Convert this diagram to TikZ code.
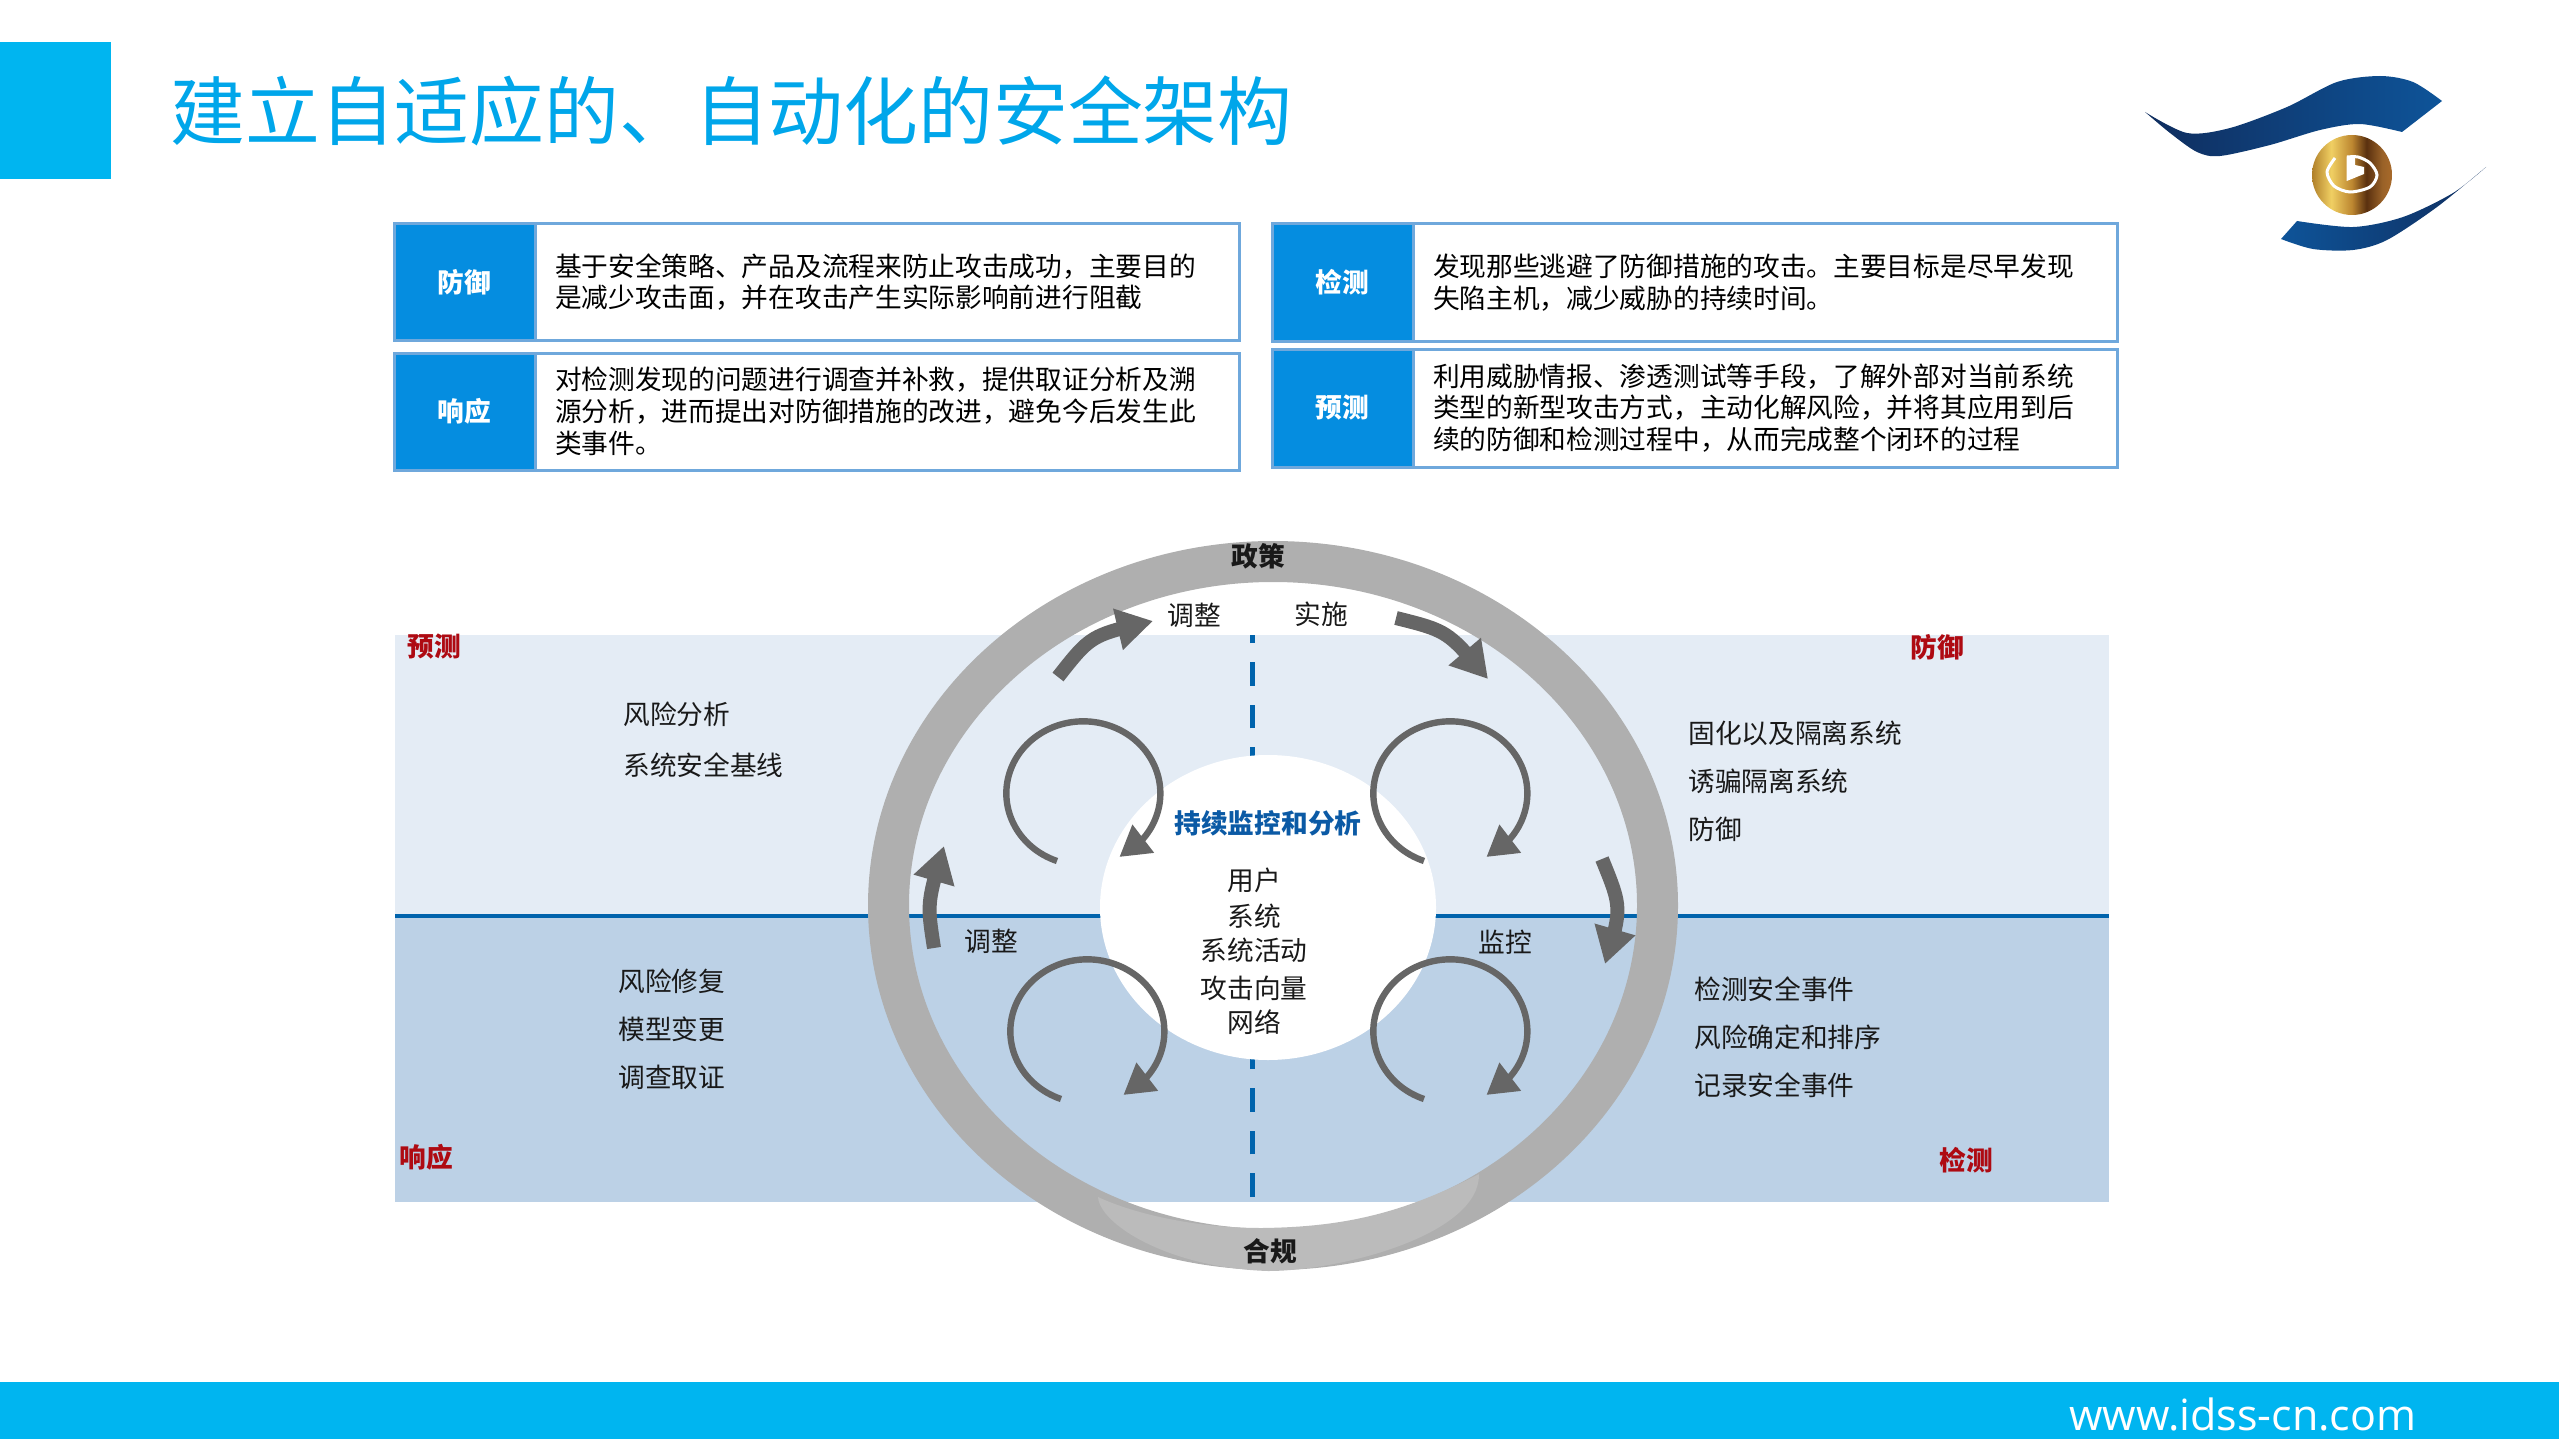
\documentclass[tikz,border=0pt]{standalone}
\usepackage{fontspec}
\setmainfont{Noto Sans CJK SC}
\newfontfamily\webfont{Open Sans}
\usetikzlibrary{shapes.geometric, arrows.meta, bending, positioning}

\definecolor{titleblue}{HTML}{00A6EA}
\definecolor{barblue}{HTML}{00B5F0}
\definecolor{tagblue}{HTML}{058DE0}
\definecolor{edgeblue}{HTML}{6FA8DC}
\definecolor{uppertint}{HTML}{E4ECF5}
\definecolor{lowertint}{HTML}{BCD1E6}
\definecolor{axisblue}{HTML}{0063AC}
\definecolor{ringgray}{HTML}{AFAFAF}
\definecolor{capgray}{HTML}{BBBBBB}
\definecolor{arrowgray}{HTML}{666666}
\definecolor{quadred}{HTML}{AE0A12}
\definecolor{monitorblue}{HTML}{0B5AA5}
\definecolor{logodark}{HTML}{0F2D5E}
\definecolor{logoblue}{HTML}{0E5499}
\definecolor{goldA}{HTML}{B0802A}
\definecolor{goldB}{HTML}{F0CF63}
\definecolor{goldC}{HTML}{BC8630}
\definecolor{goldD}{HTML}{5A300F}
\definecolor{goldE}{HTML}{9A6228}
\definecolor{goldF}{HTML}{A86A2A}
\pgfdeclarehorizontalshading{goldshade}{100bp}{
  color(0bp)=(goldA); color(25bp)=(goldA); color(37bp)=(goldB); color(50bp)=(goldC);
  color(59bp)=(goldD); color(69bp)=(goldE); color(75bp)=(goldF); color(100bp)=(goldF)}

\begin{document}
\begin{tikzpicture}[
        x=0.5pt, y=-0.5pt,
        tagbox/.style={rectangle, fill=tagblue, draw=edgeblue, line width=1.5pt, minimum width=70.5pt, inner sep=0pt, outer sep=0pt, text=white, font=\fontsize{13.35}{16}\selectfont\bfseries},
        textbox/.style={rectangle, fill=white, draw=edgeblue, line width=1.5pt, inner xsep=10pt, inner ysep=0pt, outer sep=0pt, align=left, text=black, font=\fontsize{13.35}{15.9}\selectfont},
        band/.style={rectangle, minimum width=857pt, inner sep=0pt, outer sep=0pt},
        flowarrow/.style={draw=arrowgray, line width=7pt, -{Triangle[length=18pt, width=20pt]}},
        looparrow/.style={draw=arrowgray, line width=3.2pt, -{Triangle[length=15pt, width=17pt]}},
        plain/.style={font=\fontsize{13.35}{16}\selectfont, text=black!90, inner sep=0pt},
        item/.style={plain, anchor=west},
        strong/.style={plain, font=\fontsize{13.35}{16}\selectfont\bfseries},
        quadrant/.style={strong, text=quadred},
    ]
\useasboundingbox (0,0) rectangle (2559,1439);

% header and footer
\node[rectangle, fill=barblue, minimum width=55.5pt, minimum height=68.5pt, inner sep=0pt, outer sep=0pt, anchor=north west] (corner) at (0,42) {};
\node[anchor=west, inner sep=0pt, text=titleblue, font=\fontsize{37.4}{40}\selectfont] (title) at (170,111) {建立自适应的、自动化的安全架构};
\node[rectangle, fill=barblue, minimum width=1279.5pt, minimum height=28.5pt, inner sep=0pt, outer sep=0pt, anchor=south west] (footer) at (0,1439) {};
\node[anchor=west, inner sep=0pt, text=white, font=\fontsize{21.5}{24}\selectfont\webfont] (site) at (2069,1414) {www.idss-cn.com};

% logo
\shade[left color=logodark, right color=logoblue] plot[smooth] coordinates {(2145,112) (2187,133) (2230,128) (2287,107) (2337,82) (2380,76) (2413,82) (2442,101)} -- plot[smooth] coordinates {(2402,132) (2360,124) (2320,130) (2270,145) (2220,156) (2197,152) (2170,133) (2145,112)} -- cycle;
\shade[left color=logoblue, right color=logodark] plot[smooth] coordinates {(2486,167) (2453,193) (2403,217) (2353,227) (2297,221)} -- plot[smooth] coordinates {(2281,239) (2313,249) (2353,250) (2387,240) (2437,207) (2486,167)} -- cycle;
\node[circle, minimum size=40pt, inner sep=0pt, outer sep=0pt, shade, shading=goldshade] (coin) at (2352,175) {};
\draw[white, line width=1.5pt] plot[smooth] coordinates {(2335,158) (2327,172) (2334,186) (2350,192) (2370,187) (2377,175) (2370,163) (2358,157) (2347,157)};
\fill[white] (2346.7,156.5) -- (2346.7,181) -- (2364,174) -- (2364,167) -- (2355,165) -- (2355,158) -- cycle;

% definitions
\node[tagbox, minimum height=58.5pt, anchor=north west] (defend) at (394,223.5) {防御};
\node[textbox, minimum height=58.5pt, text width=332pt, right=0pt of defend] (defendtext) {基于安全策略、产品及流程来防止攻击成功，主要目的\\是减少攻击面，并在攻击产生实际影响前进行阻截};
\node[tagbox, minimum height=58.5pt, anchor=north west] (respond) at (394,353) {响应};
\node[textbox, minimum height=58.5pt, text width=332pt, right=0pt of respond] (respondtext) {对检测发现的问题进行调查并补救，提供取证分析及溯\\源分析，进而提出对防御措施的改进，避免今后发生此\\类事件。};
\node[tagbox, minimum height=59pt, anchor=north west] (detect) at (1272,223.5) {检测};
\node[textbox, minimum height=59pt, text width=332pt, right=0pt of detect] (detecttext) {发现那些逃避了防御措施的攻击。主要目标是尽早发现\\失陷主机，减少威胁的持续时间。};
\node[tagbox, minimum height=59pt, anchor=north west] (predict) at (1272,349) {预测};
\node[textbox, minimum height=59pt, text width=332pt, right=0pt of predict] (predicttext) {利用威胁情报、渗透测试等手段，了解外部对当前系统\\类型的新型攻击方式，主动化解风险，并将其应用到后\\续的防御和检测过程中，从而完成整个闭环的过程};

% bands and axes
\node[band, fill=uppertint, minimum height=140.5pt, anchor=north west] (upperband) at (395,635) {};
\node[band, fill=lowertint, minimum height=143pt, below=0pt of upperband] (lowerband) {};
\draw[axisblue, line width=1.8pt] (upperband.south west) -- (upperband.south east);
\coordinate (dashbottom) at (1252.5,1197);
\coordinate (dashtop) at (1252.5,635);
\draw[axisblue, line width=2.5pt, dash pattern=on 11.8pt off 9.5pt] (dashbottom) -- (dashtop);

% ring
\node[ellipse, draw=ringgray, line width=20.5pt, minimum width=384.5pt, minimum height=344pt, inner sep=0pt, outer sep=0pt] (ring) at (1273,905.5) {};
\node[ellipse, fill=white, minimum width=168pt, minimum height=152.5pt, inner sep=0pt, outer sep=0pt] (monitor) at (1268,907.5) {};
\fill[capgray] (1479,1174) .. controls (1400,1215) and (1340,1227) .. (1262,1228) .. controls (1190,1228) and (1130,1212) .. (1098,1197) .. controls (1100,1225) and (1170,1268) .. (1268,1271) .. controls (1340,1271) and (1480,1235) .. (1479,1174) -- cycle;

% flow
\coordinate (adjusttail) at (1058,677);
\coordinate (adjusthead) at (1153,621);
\draw[flowarrow] (adjusttail) .. controls (1091,635) .. (adjusthead);
\coordinate (applytail) at (1396,618);
\coordinate (applyhead) at (1488,679);
\draw[flowarrow] (applytail) .. controls (1448,631) .. (applyhead);
\coordinate (monitortail) at (1602,859);
\coordinate (monitorhead) at (1605,964);
\draw[flowarrow] (monitortail) .. controls (1622,908) .. (monitorhead);
\coordinate (repairtail) at (934,948);
\coordinate (repairhead) at (944,846);
\draw[flowarrow] (repairtail) .. controls (927,903) .. (repairhead);

\coordinate (loopTL) at (1057,861);
\draw[looparrow] (loopTL) arc[start angle=250, end angle=-62, x radius=38.5pt, y radius=36pt];
\coordinate (loopTR) at (1424,861);
\draw[looparrow] (loopTR) arc[start angle=250, end angle=-62, x radius=38.5pt, y radius=36pt];
\coordinate (loopBL) at (1061,1099);
\draw[looparrow] (loopBL) arc[start angle=250, end angle=-62, x radius=38.5pt, y radius=36pt];
\coordinate (loopBR) at (1424,1099);
\draw[looparrow] (loopBR) arc[start angle=250, end angle=-62, x radius=38.5pt, y radius=36pt];

% labels on the ring
\node[strong] (policy) at (1258,556) {政策};
\node[strong] (comply) at (1270,1251) {合规};
\node[plain] (adjusttop) at (1194,615) {调整};
\node[plain] (apply) at (1321,614) {实施};
\node[plain] (adjustleft) at (991,941) {调整};
\node[plain] (watch) at (1505,942) {监控};

% centre
\node[strong, text=monitorblue] (monitortitle) at (1268,823) {持续监控和分析};
\node[plain] (users) at (1254,880) {用户};
\node[plain] (systems) at (1254,916) {系统};
\node[plain] (activity) at (1254,950) {系统活动};
\node[plain] (vectors) at (1254,988) {攻击向量};
\node[plain] (network) at (1254,1022) {网络};

% quadrants
\node[quadrant] (qpredict) at (434,647) {预测};
\node[quadrant] (qdefend) at (1937,647) {防御};
\node[quadrant] (qrespond) at (426,1157) {响应};
\node[quadrant] (qdetect) at (1966,1160) {检测};

\node[item] (risk) at (623,714) {风险分析};
\node[item] (baseline) at (623,765) {系统安全基线};
\node[item] (repair) at (618,981) {风险修复};
\node[item] (model) at (618,1029) {模型变更};
\node[item] (forensic) at (618,1077) {调查取证};
\node[item] (harden) at (1688,733) {固化以及隔离系统};
\node[item] (decoy) at (1688,781) {诱骗隔离系统};
\node[item] (prevent) at (1688,829) {防御};
\node[item] (event) at (1694,989) {检测安全事件};
\node[item] (rank) at (1694,1037) {风险确定和排序};
\node[item] (record) at (1694,1085) {记录安全事件};
\end{tikzpicture}
\end{document}
